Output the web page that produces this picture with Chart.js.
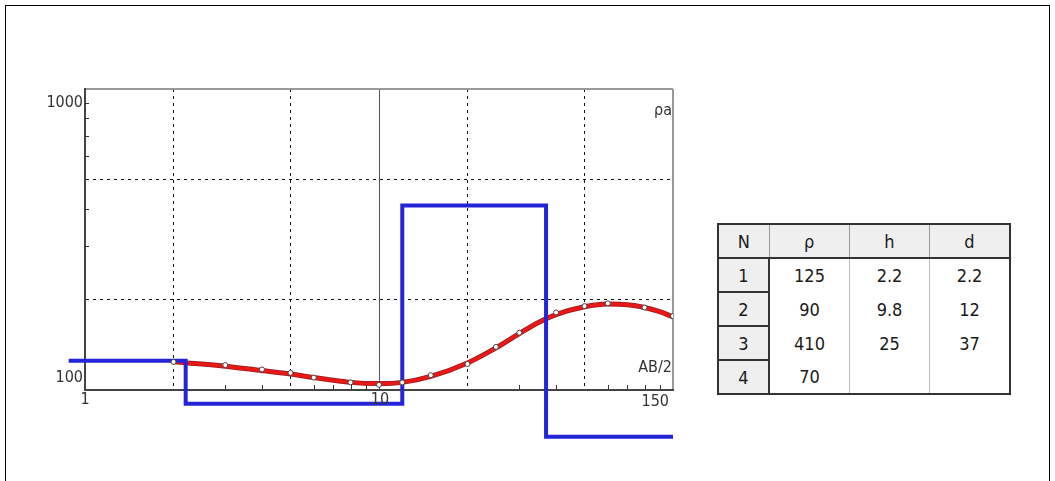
<!DOCTYPE html>
<html>
<head>
<meta charset="utf-8">
<script src="https://cdn.jsdelivr.net/npm/chart.js@4/dist/chart.umd.min.js"></script>
<style>
  body { margin: 0; background: #fff; width: 1055px; height: 481px; overflow: hidden; position: relative; }
  #frame { position: absolute; left: 5px; top: 5px; width: 1043px; height: 520px; border: 1px solid #000; }
  #vesChart { position: absolute; left: 0; top: 0; }
  #layers {
    position: absolute; left: 717px; top: 223px; border-collapse: collapse;
    border: 2px solid #333; font-family: "DejaVu Sans Condensed", "DejaVu Sans", sans-serif;
    font-size: 18px; color: #1a1a1a;
  }
  #layers th, #layers td { text-align: center; padding: 0; height: 32px; }
  #layers th { background: #efefef; font-weight: normal; border: 1px solid #999; border-bottom: 2px solid #333; height: 32px; }
  #layers td { border-left: 1px solid #bbb; border-right: 1px solid #bbb; }
  #layers td.n { background: #efefef; border-bottom: 2px solid #333; border-right: 2px solid #333; width: 49px; }
  #layers tr:last-child td.n { border-bottom: none; }
  #layers .c { width: 79px; }
</style>
</head>
<body>
<div id="frame"></div>
<canvas id="vesChart" width="700" height="481"></canvas>
<table id="layers"></table>
<script>
// layer model (table)
const layerN = [1, 2, 3, 4];
const layerRho = [125, 90, 410, 70];
const layerH = [2.2, 9.8, 25];
const layerD = [2.2, 12, 37];
const tableHead = ['N', 'ρ', 'h', 'd'];

// field measurements, AB/2 vs apparent resistivity
const abHalf = [2, 3, 4, 5, 6, 8, 10, 12, 15, 20, 25, 30, 40, 50, 60, 80, 100];
const rhoObs = [124, 121, 117, 114, 110, 106, 104, 106, 112, 122, 139, 155, 181, 190, 194, 188, 176];

// fitted curve
const curveAb = [2, 3, 4, 5, 6, 8, 10, 12, 15, 20, 25, 30, 35, 40, 50, 60, 70, 80, 90, 100];
const curveRho = [124, 120, 116, 113, 110, 106, 105, 106, 111, 123, 138, 154, 168, 178, 189, 193, 192, 188, 182, 175];

// axes
const xGrid = [1, 2, 5, 10, 20, 50, 100];
const yGrid = [100, 200, 500, 1000];
const xMinor = [3, 4, 6, 7, 8, 9, 30, 40, 60, 70, 80, 90];
const yMinor = [300, 400, 600, 700, 800, 900];
const xTickLabels = ['1', '10', '150'];
const yTickLabels = ['100', '1000'];
const modelStart = 0.88, modelEnd = 100;

// build the table
const tbl = document.getElementById('layers');
let html = '<tr>' + tableHead.map((h, i) => `<th class="${i ? 'c' : 'n'}">${h}</th>`).join('') + '</tr>';
layerN.forEach((n, i) => {
  html += `<tr><td class="n">${n}</td><td class="c">${layerRho[i]}</td>` +
          `<td class="c">${layerH[i] ?? ''}</td><td class="c">${layerD[i] ?? ''}</td></tr>`;
});
tbl.innerHTML = html;

// step model line from the layer table
const modelX = [modelStart, ...layerD, modelEnd];
const modelY = [...layerRho, layerRho[layerRho.length - 1]];

const axisDecor = {
  id: 'axisDecor',
  beforeDatasetsDraw(chart) {
    const { ctx, chartArea: a, scales: { x, y } } = chart;
    ctx.save();
    ctx.strokeStyle = '#333';
    ctx.lineWidth = 1;
    ctx.beginPath();
    xMinor.forEach(v => {
      const px = Math.round(x.getPixelForValue(v)) + 0.5;
      ctx.moveTo(px, a.bottom); ctx.lineTo(px, a.bottom - 5);
    });
    yMinor.forEach(v => {
      const py = Math.round(y.getPixelForValue(v)) + 0.5;
      ctx.moveTo(a.left, py); ctx.lineTo(a.left + 4, py);
    });
    ctx.stroke();
    ctx.restore();
  },
  afterDraw(chart) {
    const { ctx, chartArea: a, scales: { x, y } } = chart;
    ctx.save();
    ctx.fillStyle = '#333';
    ctx.font = '16px "DejaVu Sans Condensed", "DejaVu Sans"';
    ctx.textBaseline = 'middle';
    ctx.textAlign = 'right';
    ctx.fillText(yTickLabels[1], a.left - 2, y.getPixelForValue(1000) + 14);
    ctx.fillText(yTickLabels[0], a.left - 2, y.getPixelForValue(100) - 12);
    ctx.textAlign = 'center';
    ctx.fillText(xTickLabels[0], x.getPixelForValue(1), a.bottom + 10);
    ctx.fillText(xTickLabels[1], x.getPixelForValue(10) + 1, a.bottom + 10);
    ctx.textAlign = 'right';
    ctx.fillText(xTickLabels[2], a.right - 4, a.bottom + 12);
    ctx.fillText('AB/2', a.right - 1, a.bottom - 22);
    ctx.fillText('ρa', a.right - 1, a.top + 22);
    ctx.restore();
  }
};

const dashed = [3, 4];

const config = {
  type: 'line',
  data: {
    datasets: [
      {
        data: abHalf.map((v, i) => ({ x: v, y: rhoObs[i] })),
        showLine: false,
        pointRadius: 2.5,
        pointBorderWidth: 1,
        pointBorderColor: '#444',
        pointBackgroundColor: '#fff',
        order: 1
      },
      {
        data: modelX.map((v, i) => ({ x: v, y: modelY[i] })),
        stepped: true,
        borderColor: '#2424d8',
        borderWidth: 4,
        pointRadius: 0,
        clip: false,
        order: 2
      },
      {
        data: curveAb.map((v, i) => ({ x: v, y: curveRho[i] })),
        borderColor: '#e81818',
        borderWidth: 3.5,
        pointRadius: 0,
        cubicInterpolationMode: 'monotone',
        order: 3
      },
      {
        data: curveAb.map((v, i) => ({ x: v, y: curveRho[i] })),
        borderColor: '#9a1c1c',
        borderWidth: 5,
        pointRadius: 0,
        cubicInterpolationMode: 'monotone',
        order: 4
      }
    ]
  },
  options: {
    responsive: false,
    animation: false,
    events: [],
    layout: { padding: { left: 85, top: 89, right: 27, bottom: 91 } },
    plugins: { legend: { display: false }, tooltip: { enabled: false } },
    scales: {
      x: {
        type: 'logarithmic',
        min: 1,
        max: 100,
        afterBuildTicks: s => { s.ticks = xGrid.map(v => ({ value: v })); },
        ticks: { display: false },
        grid: {
          drawTicks: false,
          color: c => c.tick.value === 1 ? 'rgba(0,0,0,0)' : c.tick.value === 10 ? '#555' : c.tick.value === 100 ? '#999' : '#111',
          lineWidth: c => c.tick.value === 100 ? 2 : 1
        },
        border: {
          color: '#444',
          width: 2,
          dash: c => (c.tick && [2, 5, 20, 50].includes(c.tick.value)) ? dashed : []
        }
      },
      y: {
        type: 'logarithmic',
        min: 100,
        max: 1000,
        afterBuildTicks: s => { s.ticks = yGrid.map(v => ({ value: v })); },
        ticks: { display: false },
        grid: {
          drawTicks: false,
          color: c => c.tick.value === 100 ? 'rgba(0,0,0,0)' : c.tick.value === 1000 ? '#999' : '#111',
          lineWidth: c => c.tick.value === 1000 ? 2 : 1
        },
        border: {
          color: '#444',
          width: 2,
          dash: c => (c.tick && [200, 500].includes(c.tick.value)) ? dashed : []
        }
      }
    }
  },
  plugins: [axisDecor]
};

new Chart(document.getElementById('vesChart').getContext('2d'), config);
</script>
</body>
</html>
